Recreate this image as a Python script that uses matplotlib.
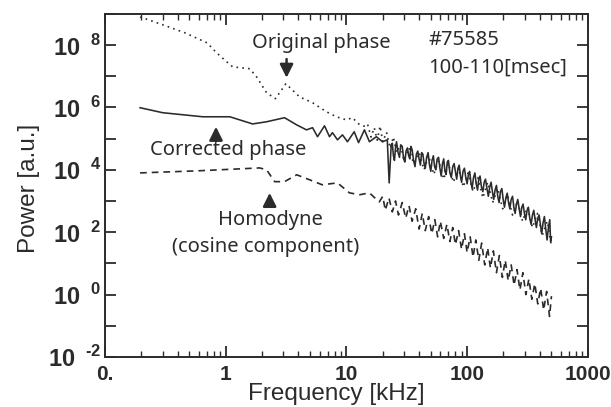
import matplotlib
matplotlib.use("Agg")
import matplotlib.pyplot as plt
from matplotlib.ticker import LogLocator, FuncFormatter, NullFormatter
import numpy as np

# values: frequency [kHz], log10 power [a.u.]
orig_f = [0.195, 0.30, 0.46, 0.70, 0.84, 1.02, 1.14, 1.58, 1.80, 2.18, 2.58, 3.15, 4.08, 5.24,
          6.83, 8.25, 10.0, 11.2, 12.9, 14.6,
          15, 16, 17, 18, 19, 20, 21.5, 23, 24.5, 26, 28, 30, 33, 36, 40, 44, 48, 53, 58, 64, 70,
          77, 85, 93, 102, 112, 123, 135, 148, 163, 179, 197, 216, 238, 262, 288, 316, 348, 382,
          420, 462, 500]
orig_p = [8.90, 8.65, 8.39, 8.07, 7.75, 7.46, 7.30, 7.24, 6.98, 6.47, 6.28, 6.76, 6.34, 6.15,
          5.86, 5.70, 5.60, 5.67, 5.44, 5.38,
          5.45, 5.05, 5.35, 4.95, 5.40, 4.90, 5.20, 4.70, 5.05, 4.55, 4.80, 4.30, 4.70, 4.20, 4.55,
          4.00, 4.45, 3.85, 4.30, 3.70, 4.20, 3.60, 4.05, 3.45, 3.90, 3.30, 3.75, 3.10, 3.60, 2.95,
          3.40, 2.75, 3.20, 2.55, 3.00, 2.35, 2.80, 2.15, 2.60, 1.90, 2.35, 1.55]

corr_f = [0.195, 0.30, 0.645, 1.08, 1.67, 2.18, 3.07, 3.87, 4.67, 5.24, 5.76, 6.58, 7.24, 7.66,
          8.43, 9.27, 10.2, 11.6, 12.6, 14.1, 15.5, 17.7, 19.9, 21.8, 22.6, 23.5,
          24, 24.5, 25, 25.5, 26, 26.8, 27.5, 28.2, 29, 29.8, 30.5, 31.2, 32, 32.8, 33.5, 34.2,
          35, 36, 37, 38, 39, 40, 41, 42, 43, 44, 45, 46.2, 47.5, 48.8, 50, 51.2, 52.5, 53.8, 55,
          56.5, 58, 59.5, 61, 62.5, 64, 65.5, 67, 68.5, 70, 72, 74, 76, 78, 80, 82, 84, 86, 88,
          90, 92.5, 95, 97.5, 100, 102.5, 105, 107.5, 110, 113, 116, 119, 122, 125, 128, 131.5,
          135, 138.5, 142, 146, 150, 154, 158, 162, 166, 170.5, 175, 179.5, 184, 189, 194, 199,
          204, 209.5, 215, 220.5, 226, 232, 238, 244, 250, 256.5, 263, 270, 277, 284, 291, 298.5,
          306, 314, 322, 330.5, 339, 348, 357, 366, 375, 385, 395, 405, 415, 426, 437, 448.5,
          460, 472, 484, 492, 500]
corr_p = [5.99, 5.83, 5.70, 5.70, 5.47, 5.54, 5.67, 5.44, 5.28, 5.35, 5.06, 5.41, 5.06, 5.19,
          4.96, 5.12, 4.90, 5.22, 4.87, 5.28, 4.90, 5.06, 4.90, 4.96, 3.58, 4.80,
          4.85, 4.45, 4.30, 4.70, 4.90, 4.55, 4.40, 4.80, 4.75, 4.35, 4.25, 4.60, 4.70, 4.45,
          4.35, 4.75, 4.65, 4.30, 4.10, 4.50, 4.60, 4.35, 4.15, 4.55, 4.50, 4.20, 4.05, 4.40,
          4.55, 4.15, 3.95, 4.30, 4.45, 4.10, 4.00, 4.35, 4.40, 4.05, 3.80, 4.20, 4.35, 3.95,
          3.85, 4.25, 4.30, 3.90, 3.75, 4.10, 4.20, 3.95, 3.70, 4.05, 4.15, 3.80, 3.60, 3.95,
          4.05, 3.75, 3.55, 3.85, 3.95, 3.60, 3.40, 3.75, 3.90, 3.55, 3.35, 3.70, 3.80, 3.45,
          3.30, 3.60, 3.70, 3.40, 3.15, 3.45, 3.60, 3.30, 3.05, 3.35, 3.50, 3.15, 2.95, 3.30,
          3.40, 3.05, 2.80, 3.10, 3.25, 2.95, 2.75, 3.05, 3.15, 2.80, 2.60, 2.90, 3.05, 2.75,
          2.50, 2.80, 2.90, 2.60, 2.40, 2.70, 2.80, 2.45, 2.25, 2.55, 2.70, 2.40, 2.15, 2.45,
          2.55, 2.25, 1.95, 2.30, 2.50, 2.10, 1.75, 2.15, 2.40, 1.70, 1.85]

homo_f = [0.195, 0.61, 1.30, 1.91, 2.18, 2.54, 3.07, 3.87, 4.95, 6.29, 8.43, 10.6, 12.9, 15.5,
          18.7, 20, 21, 22.5, 24, 25.5, 27, 29, 31, 33, 35, 37.5, 40, 42.5, 45, 48, 51, 54, 57, 60,
          64, 68, 72, 76, 80, 85, 90, 95, 100, 106, 112, 118, 125, 132, 140, 148, 156, 165, 175,
          185, 196, 207, 219, 232, 245, 259, 274, 290, 307, 325, 344, 364, 385, 407, 431, 456, 482,
          500]
homo_p = [3.90, 3.97, 4.03, 4.06, 4.00, 3.62, 3.62, 3.84, 3.68, 3.52, 3.58, 3.26, 3.20, 3.26,
          2.97, 3.15, 2.70, 3.10, 2.65, 3.00, 2.55, 2.95, 2.45, 2.85, 2.35, 2.75, 2.10, 2.60, 2.05,
          2.50, 1.95, 2.40, 1.85, 2.35, 1.80, 2.25, 1.70, 2.15, 1.60, 2.05, 1.45, 1.95, 1.35, 1.85,
          1.20, 1.75, 1.10, 1.65, 0.95, 1.50, 0.85, 1.40, 0.70, 1.25, 0.55, 1.10, 0.45, 0.95, 0.30,
          0.80, 0.15, 0.70, 0.00, 0.50, -0.15, 0.35, -0.30, 0.20, -0.50, 0.10, -0.70, -0.05]

ink = "#2b2b2b"
plt.rcParams["font.family"] = ["Liberation Sans", "DejaVu Sans"]
plt.rcParams["mathtext.fontset"] = "custom"
plt.rcParams["mathtext.bf"] = "Liberation Sans:bold"
plt.rcParams["mathtext.rm"] = "Liberation Sans"

fig = plt.figure(figsize=(6.11, 4.07), dpi=100)
ax = fig.add_axes([0.172, 0.123, 0.790, 0.843])

ax.plot(orig_f, 10 ** np.array(orig_p), color=ink, lw=1.2, ls=(0, (1, 2.5)))
ax.plot(corr_f, 10 ** np.array(corr_p), color=ink, lw=1.15)
ax.plot(homo_f, 10 ** np.array(homo_p), color=ink, lw=1.2, ls=(0, (4, 3)))

ax.set_xscale("log")
ax.set_yscale("log")
ax.set_xlim(0.1, 1000)
ax.set_ylim(1e-2, 1e9)

for s in ax.spines.values():
    s.set_linewidth(1.4)
    s.set_color(ink)

ax.yaxis.set_major_locator(LogLocator(base=10, numticks=20))
ax.yaxis.set_minor_formatter(NullFormatter())
ax.yaxis.set_minor_locator(LogLocator(base=10, subs=[], numticks=20))


def ylab(v, pos):
    e = int(round(np.log10(v)))
    if e % 2:
        return ""
    return r"$\mathbf{10}^{\ \ \mathbf{%s}}$" % str(e).replace("-", "\u2011")


def xlab(v, pos):
    return {0.1: "0.", 1: "1", 10: "10", 100: "100", 1000: "1000"}.get(round(v, 3), "")


ax.yaxis.set_major_formatter(FuncFormatter(ylab))
ax.xaxis.set_major_locator(LogLocator(base=10, numticks=10))
ax.xaxis.set_major_formatter(FuncFormatter(xlab))
ax.xaxis.set_minor_locator(LogLocator(base=10, subs=np.arange(2, 10), numticks=10))
ax.xaxis.set_minor_formatter(NullFormatter())

ax.tick_params(which="major", direction="in", length=8, width=1.3, color=ink,
               top=True, right=True, labelcolor=ink, pad=6)
ax.tick_params(axis="y", which="major", labelsize=17, pad=3)
ax.tick_params(axis="x", which="major", labelsize=15)
ax.tick_params(which="minor", direction="in", length=4, width=1.0, color=ink,
               top=True, right=True)
for t in ax.get_xticklabels():
    t.set_fontweight("bold")

ax.set_xlabel("Frequency [kHz]", fontsize=17.5, color=ink)
ax.xaxis.set_label_coords(0.478, -0.075)
ax.set_ylabel("Power [a.u.]", fontsize=17.5, color=ink)
ax.yaxis.set_label_coords(-0.135, 0.49)

tk = dict(fontsize=14.5, color=ink, family=["Noto Sans", "DejaVu Sans"])
ax.text(0.447, 0.915, "Original phase", transform=ax.transAxes, ha="center", va="center", **tk)
ax.text(0.669, 0.924, "#75585", transform=ax.transAxes, ha="left", va="center", **tk)
ax.text(0.669, 0.843, "100-110[msec]", transform=ax.transAxes, ha="left", va="center", **tk)
ax.text(0.093, 0.603, "Corrected phase", transform=ax.transAxes, ha="left", va="center", **tk)
ax.text(0.342, 0.400, "Homodyne", transform=ax.transAxes, ha="center", va="center", **tk)
ax.text(0.333, 0.320, "(cosine component)", transform=ax.transAxes, ha="center", va="center", **tk)

arr = dict(arrowstyle="-|>", color=ink, lw=1.8, mutation_scale=20, shrinkA=0, shrinkB=0)
ax.annotate("", xy=(3.19, 10 ** 6.95), xytext=(3.19, 10 ** 7.55), arrowprops=arr)
ax.annotate("", xy=(0.83, 10 ** 5.38), xytext=(0.83, 10 ** 4.92), arrowprops=arr)
ax.annotate("", xy=(2.31, 10 ** 3.26), xytext=(2.31, 10 ** 2.90), arrowprops=arr)

fig.savefig("out.png", dpi=100)
